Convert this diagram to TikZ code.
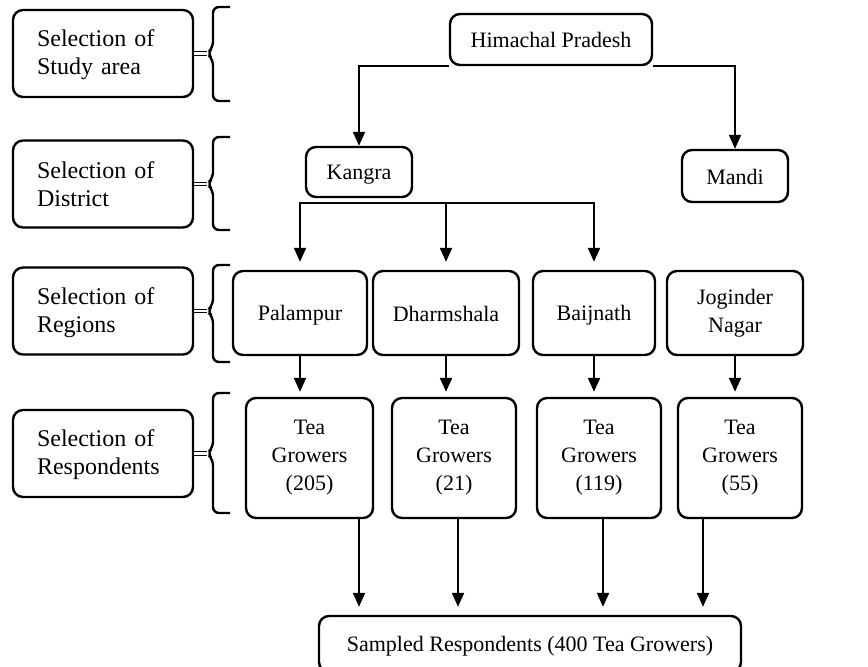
\documentclass[tikz,border=0pt]{standalone}
\usepackage{fontspec}
\setmainfont{Liberation Serif}
\usetikzlibrary{positioning,arrows.meta}

\begin{document}
\begin{tikzpicture}[x=0.5pt, y=-0.5pt, line width=1pt,
    >={Triangle[length=7pt,width=6pt]},
    every node/.style={font=\fontsize{11}{14}\selectfont,
                       execute at begin node={\rule[-2pt]{0pt}{12pt}},
                       execute at end node={\rule[-2pt]{0pt}{12pt}}},
    stage/.style={draw, line width=1.2pt, rounded corners=5pt, align=left,
                  text width=66pt, inner xsep=12pt, minimum height=43.5pt,
                  font=\fontsize{12}{14}\selectfont},
    place/.style={draw, line width=1.2pt, rounded corners=5pt, align=center, inner sep=2pt},
    brace/.style={line width=1.2pt, rounded corners=3pt}]
      \useasboundingbox (0,0) rectangle (868,666);

      % Stufen links
      \node[stage] (sel1) at (103,53.5) {Selection of\\Study area};
      \node[stage] (sel2) at (103,184)  {Selection of\\District};
      \node[stage] (sel3) at (103,311)  {Selection of\\Regions};
      \node[stage] (sel4) at (103,453.5) {Selection of\\Respondents};

      % Klammern
      \foreach \n/\yt/\ym/\yb in {1/7/53.5/101, 2/137/184/230, 3/265/311/362, 4/393/453.5/513} {
        \draw[brace] (230,\yt) -- (213,\yt) -- (213,\ym-6) -- (207,\ym) -- (213,\ym+6) -- (213,\yb) -- (230,\yb);
        \coordinate (tip\n) at (207,\ym);
        \draw[double, line width=0.5pt, double distance=1.2pt] (sel\n.east) -- (tip\n);
      }

      % Staat und Distrikte
      \node[place, minimum width=101pt, minimum height=25.5pt] (hp) at (551,39.5) {Himachal Pradesh};
      \node[place, minimum width=53pt, minimum height=25pt] (kangra) at (359,172) {Kangra};
      \node[place, minimum width=53pt, minimum height=26pt] (mandi) at (735,176) {Mandi};

      % Regionen
      \node[place, minimum width=67pt, minimum height=42pt] (palampur) at (300,313) {Palampur};
      \node[place, minimum width=73pt, minimum height=42pt] (dharmshala) at (446,313) {Dharmshala};
      \node[place, minimum width=61pt, minimum height=42pt] (baijnath) at (594,313) {Baijnath};
      \node[place, minimum width=68pt, minimum height=42pt] (joginder) at (735,313) {Joginder\\Nagar};

      % Befragte
      \node[place, minimum width=63.5pt, minimum height=60pt] (tg1) at (309.5,458) {Tea\\Growers\\(205)};
      \node[place, minimum width=62pt, minimum height=60pt] (tg2) at (454,458) {Tea\\Growers\\(21)};
      \node[place, minimum width=62pt, minimum height=60pt] (tg3) at (599,458) {Tea\\Growers\\(119)};
      \node[place, minimum width=62pt, minimum height=60pt] (tg4) at (740,458) {Tea\\Growers\\(55)};

      \node[place, minimum width=211pt, minimum height=28pt] (sampled) at (530,644) {Sampled Respondents (400 Tea Growers)};

      % Pfeile
      \draw[->] (hp.south west) -| (kangra.north);
      \draw[->] (hp.south east) -| (mandi.north);

      \coordinate (kbus) at ([yshift=-2.5pt]kangra.south);
      \foreach \r in {palampur, dharmshala, baijnath}
        \draw[->, shorten >=4pt] (kbus) -| (\r.north);

      \foreach \a/\b in {palampur/tg1, dharmshala/tg2, baijnath/tg3, joginder/tg4}
        \draw[->, shorten >=2.5pt] (\a.south) -- (\a.south |- \b.north);

      \foreach \b/\dx in {tg1/24.75pt, tg2/2pt, tg3/2pt, tg4/-18.5pt}
        \draw[->, shorten >=4pt] ([xshift=\dx]\b.south) -- ([xshift=\dx]\b.south |- sampled.north);
\end{tikzpicture}
\end{document}
